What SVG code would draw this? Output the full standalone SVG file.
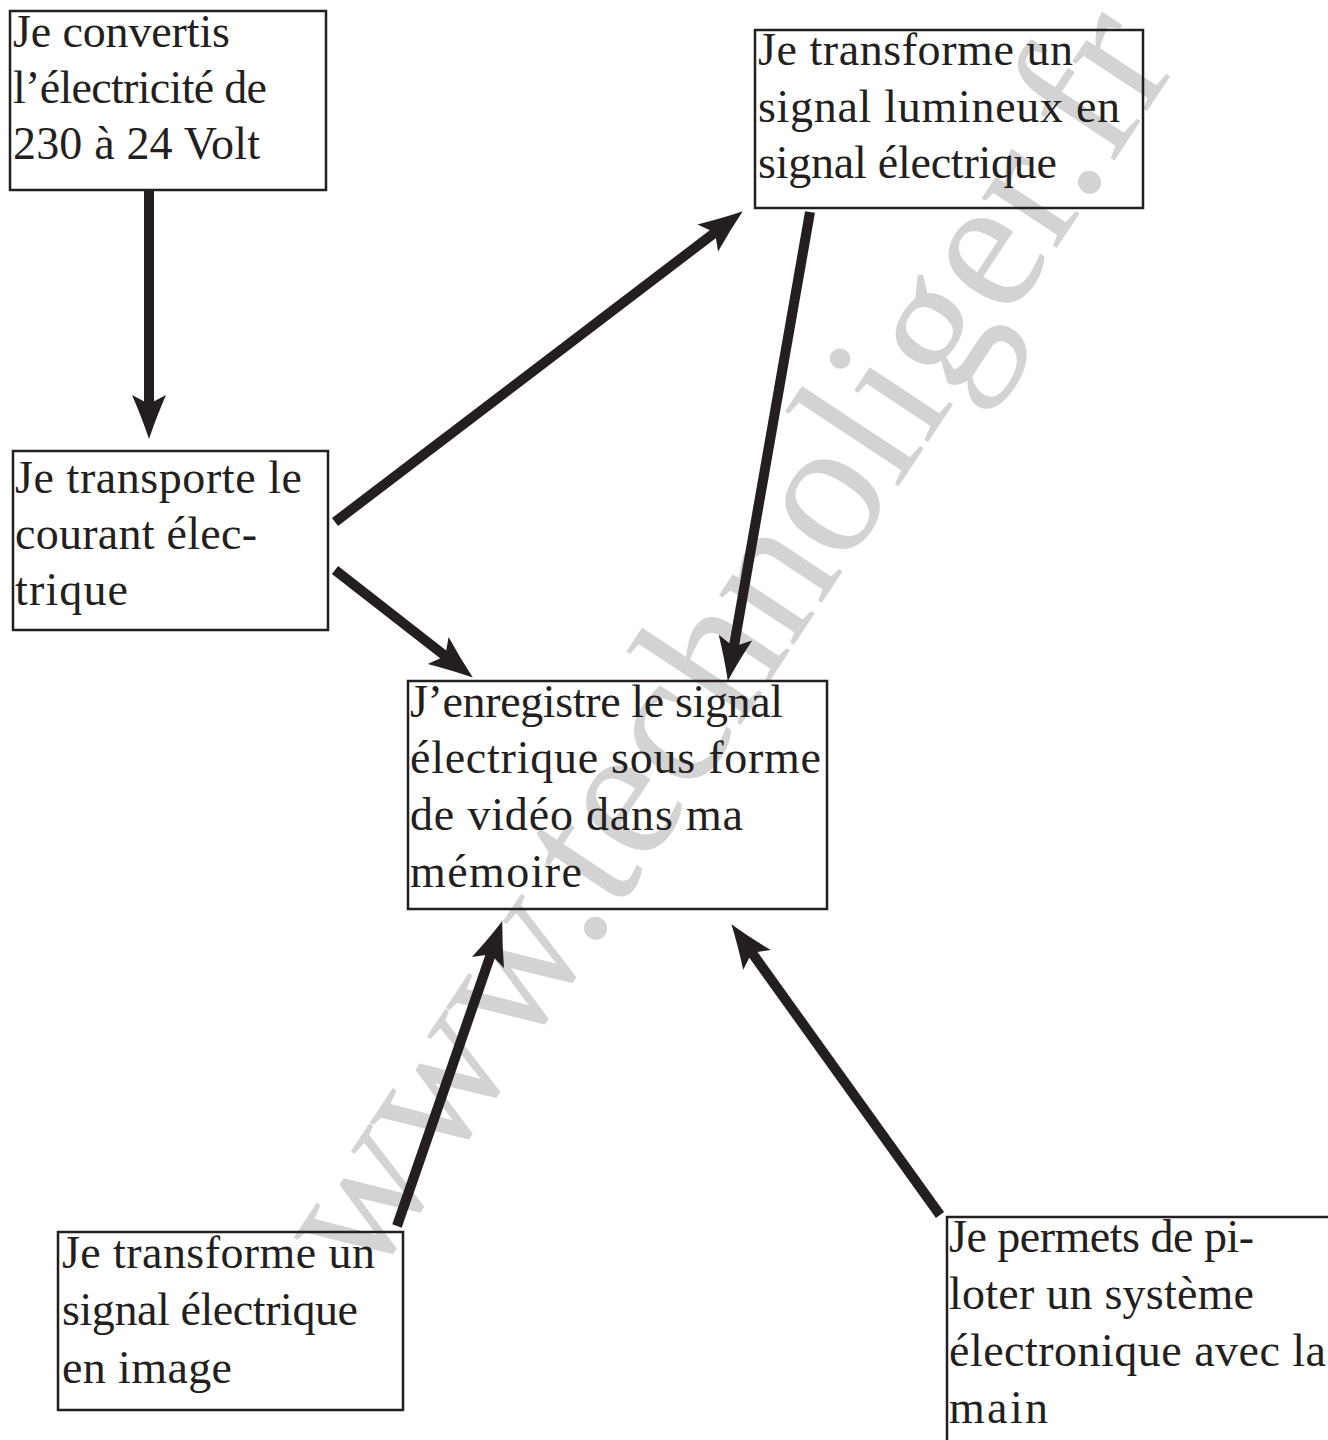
<svg xmlns="http://www.w3.org/2000/svg" width="1328" height="1440" viewBox="0 0 1328 1440">
  <style>
    .box { fill: none; stroke: #231f20; stroke-width: 2.5; }
    .t { font-family: "Liberation Serif", "Times New Roman", serif; font-size: 46px; fill: #231f20; }
    .wm { font-family: "Liberation Serif", "Times New Roman", serif; font-size: 196px; fill: #d3d3d3; }
    .conn { stroke: #231f20; stroke-width: 10; fill: none; stroke-linecap: butt; }
  </style>
  <defs>
    <marker id="ah" markerUnits="userSpaceOnUse" markerWidth="44" markerHeight="36" viewBox="0 0 44 36" refX="21" refY="18" orient="auto">
      <path d="M0,1 Q23,11 44,18 Q23,25 0,35 L9,18 Z" fill="#231f20"/>
    </marker>
  </defs>
  <rect width="1328" height="1440" fill="#ffffff"/>

  <g id="watermark" transform="translate(596,922) rotate(-56.5)">
    <text class="wm" x="-430" y="12" textLength="1470" lengthAdjust="spacingAndGlyphs">www.technoliger.fr</text>
  </g>

  <g id="connectors">
    <line class="conn" x1="149" y1="190" x2="149" y2="416" marker-end="url(#ah)"/>
    <line class="conn" x1="335" y1="522" x2="724.5" y2="225.3" marker-end="url(#ah)"/>
    <line class="conn" x1="335" y1="570" x2="454.7" y2="663.4" marker-end="url(#ah)"/>
    <line class="conn" x1="810" y1="212" x2="731.8" y2="658.3" marker-end="url(#ah)"/>
    <line class="conn" x1="397" y1="1226" x2="494.8" y2="942.8" marker-end="url(#ah)"/>
    <line class="conn" x1="940" y1="1215" x2="744.8" y2="942.9" marker-end="url(#ah)"/>
  </g>

  <g id="node-convertis">
    <rect class="box" x="10" y="11" width="316" height="179"/>
    <text class="t" x="13" y="47" textLength="217" lengthAdjust="spacing">Je convertis</text>
    <text class="t" x="13" y="103" textLength="254" lengthAdjust="spacing">l’électricité de</text>
    <text class="t" x="13" y="159" textLength="247" lengthAdjust="spacing">230 à 24 Volt</text>
  </g>

  <g id="node-capteur">
    <rect class="box" x="755" y="30" width="388" height="178"/>
    <text class="t" x="758" y="65" textLength="315" lengthAdjust="spacing">Je transforme un</text>
    <text class="t" x="758" y="122" textLength="362" lengthAdjust="spacing">signal lumineux en</text>
    <text class="t" x="758" y="178" textLength="299" lengthAdjust="spacing">signal électrique</text>
  </g>

  <g id="node-transport">
    <rect class="box" x="13" y="451" width="315" height="179"/>
    <text class="t" x="15" y="493" textLength="287" lengthAdjust="spacing">Je transporte le</text>
    <text class="t" x="15" y="549" textLength="242" lengthAdjust="spacing">courant élec-</text>
    <text class="t" x="15" y="605" textLength="113" lengthAdjust="spacing">trique</text>
  </g>

  <g id="node-enregistre">
    <rect class="box" x="408" y="681" width="419" height="228"/>
    <text class="t" x="410" y="717" textLength="373" lengthAdjust="spacing">J’enregistre le signal</text>
    <text class="t" x="410" y="773" textLength="411" lengthAdjust="spacing">électrique sous forme</text>
    <text class="t" x="410" y="830" textLength="333" lengthAdjust="spacing">de vidéo dans ma</text>
    <text class="t" x="410" y="887" textLength="172" lengthAdjust="spacing">mémoire</text>
  </g>

  <g id="node-image">
    <rect class="box" x="58" y="1232" width="345" height="178"/>
    <text class="t" x="62" y="1268" textLength="313" lengthAdjust="spacing">Je transforme un</text>
    <text class="t" x="62" y="1325" textLength="296" lengthAdjust="spacing">signal électrique</text>
    <text class="t" x="62" y="1383" textLength="170" lengthAdjust="spacing">en image</text>
  </g>

  <g id="node-pilote">
    <rect class="box" x="947" y="1217" width="400" height="240"/>
    <text class="t" x="949" y="1252" textLength="305" lengthAdjust="spacing">Je permets de pi-</text>
    <text class="t" x="949" y="1309" textLength="305" lengthAdjust="spacing">loter un système</text>
    <text class="t" x="949" y="1366" textLength="377" lengthAdjust="spacing">électronique avec la</text>
    <text class="t" x="949" y="1423" textLength="99" lengthAdjust="spacing">main</text>
  </g>
</svg>
